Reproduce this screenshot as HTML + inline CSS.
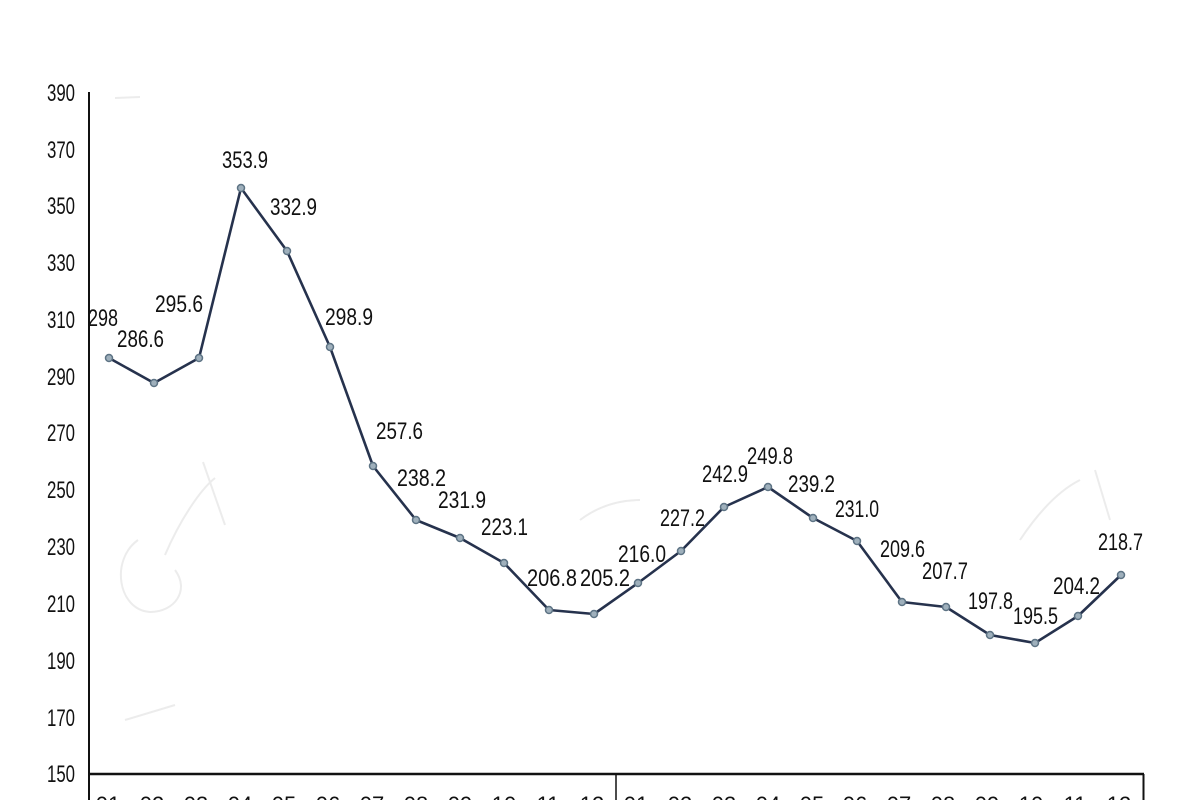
<!DOCTYPE html>
<html>
<head>
<meta charset="utf-8">
<style>
  html,body{margin:0;padding:0;background:#fff;}
  svg{display:block;}
  text{font-family:"Liberation Sans","Noto Sans CJK SC",sans-serif;fill:#111;}
</style>
</head>
<body>
<svg width="1200" height="800" viewBox="0 0 1200 800" xmlns="http://www.w3.org/2000/svg">
  <rect width="1200" height="800" fill="#fff"/>

  <!-- faint watermark traces -->
  <g fill="none" stroke="#ececec" stroke-width="2">
    <path d="M138,540 C110,560 118,610 150,612 C175,612 190,590 175,570"/>
    <path d="M165,555 C180,520 200,490 215,478"/>
    <path d="M203,462 L225,525"/>
    <path d="M580,520 C600,505 620,500 640,500"/>
    <path d="M1020,540 C1040,510 1060,490 1080,480"/>
    <path d="M1095,470 L1110,520"/>
    <path d="M125,720 L175,705"/>
    <path d="M115,98 L140,97"/>
  </g>

  <!-- axes -->
  <g stroke="#111" fill="none">
    <line x1="89" y1="92" x2="89" y2="800" stroke-width="2"/>
    <line x1="88" y1="774" x2="1144" y2="774" stroke-width="2.5"/>
    <line x1="616" y1="774" x2="616" y2="800" stroke-width="1.5"/>
    <line x1="1143.5" y1="774" x2="1143.5" y2="800" stroke-width="2"/>
  </g>

  <!-- y tick labels -->
  <g font-size="24">
    <text x="47" y="101" textLength="28" lengthAdjust="spacingAndGlyphs">390</text>
    <text x="47" y="158" textLength="28" lengthAdjust="spacingAndGlyphs">370</text>
    <text x="47" y="214" textLength="28" lengthAdjust="spacingAndGlyphs">350</text>
    <text x="47" y="271" textLength="28" lengthAdjust="spacingAndGlyphs">330</text>
    <text x="47" y="328" textLength="28" lengthAdjust="spacingAndGlyphs">310</text>
    <text x="47" y="385" textLength="28" lengthAdjust="spacingAndGlyphs">290</text>
    <text x="47" y="441" textLength="28" lengthAdjust="spacingAndGlyphs">270</text>
    <text x="47" y="498" textLength="28" lengthAdjust="spacingAndGlyphs">250</text>
    <text x="47" y="555" textLength="28" lengthAdjust="spacingAndGlyphs">230</text>
    <text x="47" y="612" textLength="28" lengthAdjust="spacingAndGlyphs">210</text>
    <text x="47" y="669" textLength="28" lengthAdjust="spacingAndGlyphs">190</text>
    <text x="47" y="726" textLength="28" lengthAdjust="spacingAndGlyphs">170</text>
    <text x="47" y="782" textLength="28" lengthAdjust="spacingAndGlyphs">150</text>
  </g>

  <!-- x tick labels (cut off at bottom) -->
  <g font-size="22" text-anchor="middle">
    <text x="108" y="812">01</text>
    <text x="152" y="812">02</text>
    <text x="196" y="812">03</text>
    <text x="240" y="812">04</text>
    <text x="284" y="812">05</text>
    <text x="328" y="812">06</text>
    <text x="372" y="812">07</text>
    <text x="416" y="812">08</text>
    <text x="460" y="812">09</text>
    <text x="504" y="812">10</text>
    <text x="548" y="812">11</text>
    <text x="592" y="812">12</text>
    <text x="636" y="812">01</text>
    <text x="680" y="812">02</text>
    <text x="724" y="812">03</text>
    <text x="768" y="812">04</text>
    <text x="812" y="812">05</text>
    <text x="855" y="812">06</text>
    <text x="899" y="812">07</text>
    <text x="943" y="812">08</text>
    <text x="987" y="812">09</text>
    <text x="1031" y="812">10</text>
    <text x="1075" y="812">11</text>
    <text x="1119" y="812">12</text>
  </g>

  <!-- series line -->
  <polyline fill="none" stroke="#26324d" stroke-width="2.6" stroke-linejoin="round"
    points="109,358 154,383 199,358 241,188 287,251 330,347 373,466 416,520 460,538 504,563 549,610 594,614 638,583 681,551 724,507 768,487 813,518 857,541 902,602 946,607 990,635 1035,643 1078,616 1121,575"/>

  <!-- markers -->
  <g fill="#9fb0bc" stroke="#5d7384" stroke-width="1.5">
    <circle cx="109" cy="358" r="3.5"/>
    <circle cx="154" cy="383" r="3.5"/>
    <circle cx="199" cy="358" r="3.5"/>
    <circle cx="241" cy="188" r="3.5"/>
    <circle cx="287" cy="251" r="3.5"/>
    <circle cx="330" cy="347" r="3.5"/>
    <circle cx="373" cy="466" r="3.5"/>
    <circle cx="416" cy="520" r="3.5"/>
    <circle cx="460" cy="538" r="3.5"/>
    <circle cx="504" cy="563" r="3.5"/>
    <circle cx="549" cy="610" r="3.5"/>
    <circle cx="594" cy="614" r="3.5"/>
    <circle cx="638" cy="583" r="3.5"/>
    <circle cx="681" cy="551" r="3.5"/>
    <circle cx="724" cy="507" r="3.5"/>
    <circle cx="768" cy="487" r="3.5"/>
    <circle cx="813" cy="518" r="3.5"/>
    <circle cx="857" cy="541" r="3.5"/>
    <circle cx="902" cy="602" r="3.5"/>
    <circle cx="946" cy="607" r="3.5"/>
    <circle cx="990" cy="635" r="3.5"/>
    <circle cx="1035" cy="643" r="3.5"/>
    <circle cx="1078" cy="616" r="3.5"/>
    <circle cx="1121" cy="575" r="3.5"/>
  </g>

  <!-- data labels -->
  <g font-size="24">
    <text x="88" y="326" textLength="30" lengthAdjust="spacingAndGlyphs">298</text>
    <text x="117" y="347" textLength="47" lengthAdjust="spacingAndGlyphs">286.6</text>
    <text x="155" y="312" textLength="48" lengthAdjust="spacingAndGlyphs">295.6</text>
    <text x="222" y="168" textLength="46" lengthAdjust="spacingAndGlyphs">353.9</text>
    <text x="270" y="215" textLength="47" lengthAdjust="spacingAndGlyphs">332.9</text>
    <text x="325" y="325" textLength="48" lengthAdjust="spacingAndGlyphs">298.9</text>
    <text x="376" y="439" textLength="47" lengthAdjust="spacingAndGlyphs">257.6</text>
    <text x="397" y="486" textLength="49" lengthAdjust="spacingAndGlyphs">238.2</text>
    <text x="438" y="508" textLength="48" lengthAdjust="spacingAndGlyphs">231.9</text>
    <text x="481" y="535" textLength="47" lengthAdjust="spacingAndGlyphs">223.1</text>
    <text x="527" y="586" textLength="50" lengthAdjust="spacingAndGlyphs">206.8</text>
    <text x="580" y="586" textLength="50" lengthAdjust="spacingAndGlyphs">205.2</text>
    <text x="618" y="562" textLength="48" lengthAdjust="spacingAndGlyphs">216.0</text>
    <text x="660" y="526" textLength="45" lengthAdjust="spacingAndGlyphs">227.2</text>
    <text x="702" y="482" textLength="46" lengthAdjust="spacingAndGlyphs">242.9</text>
    <text x="747" y="464" textLength="46" lengthAdjust="spacingAndGlyphs">249.8</text>
    <text x="788" y="492" textLength="47" lengthAdjust="spacingAndGlyphs">239.2</text>
    <text x="835" y="517" textLength="44" lengthAdjust="spacingAndGlyphs">231.0</text>
    <text x="880" y="557" textLength="45" lengthAdjust="spacingAndGlyphs">209.6</text>
    <text x="922" y="579" textLength="46" lengthAdjust="spacingAndGlyphs">207.7</text>
    <text x="968" y="609" textLength="45" lengthAdjust="spacingAndGlyphs">197.8</text>
    <text x="1013" y="624" textLength="45" lengthAdjust="spacingAndGlyphs">195.5</text>
    <text x="1053" y="594" textLength="47" lengthAdjust="spacingAndGlyphs">204.2</text>
    <text x="1098" y="550" textLength="45" lengthAdjust="spacingAndGlyphs">218.7</text>
  </g>
</svg>
</body>
</html>
